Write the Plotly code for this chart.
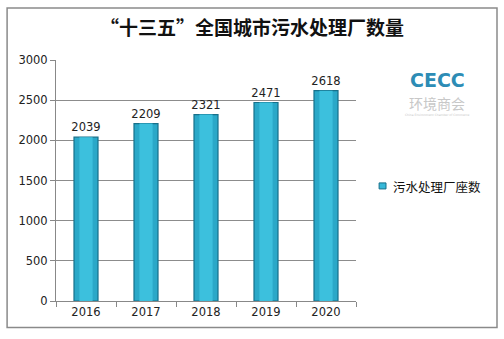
import plotly.graph_objects as go

years = ["2016", "2017", "2018", "2019", "2020"]
plants = [2039, 2209, 2321, 2471, 2618]
series_name = "污水处理厂座数"
title_text = "“十三五”全国城市污水处理厂数量"
y_ticks = [0, 500, 1000, 1500, 2000, 2500, 3000]

fig = go.Figure()
# main bar with darker edges
fig.add_trace(go.Bar(
    x=years, y=plants, name=series_name,
    marker=dict(color="#2aa8c8", line=dict(color="#17708a", width=1.2)),
    width=0.4,
    text=[str(v) for v in plants], textposition="outside",
    textfont=dict(size=11.5, color="#222", family="DejaVu Sans"),
    constraintext="none", cliponaxis=False,
))
# lighter centre highlight on each bar
fig.add_trace(go.Bar(
    x=years, y=plants, showlegend=False, hoverinfo="skip",
    marker=dict(color="#3cc0dd", line=dict(width=0)),
    width=0.22,
))

fig.update_layout(
    width=504, height=339,
    barmode="overlay",
    margin=dict(l=56, r=148, t=60, b=38, autoexpand=False),
    paper_bgcolor="white", plot_bgcolor="white",
    showlegend=False,
    font=dict(family="DejaVu Sans", size=11, color="#222"),
    title=dict(text="<b>" + title_text + "</b>", x=0.5, xref="container", xanchor="center",
               y=0.915, yanchor="middle",
               font=dict(size=19, color="#111", family="Noto Sans CJK SC")),
)

fig.update_xaxes(
    type="category", showline=True, linecolor="#888", linewidth=1,
    ticks="outside", tickson="boundaries", ticklen=5, tickcolor="#888",
    tickfont=dict(size=11.5, color="#222"), showgrid=False,
)
fig.update_yaxes(
    range=[0, 3000], tickvals=y_ticks, showline=True, linecolor="#888", linewidth=1,
    ticks="outside", ticklen=5, tickcolor="#888",
    gridcolor="#8c8c8c", gridwidth=1, zeroline=False,
    tickfont=dict(size=11.5, color="#222"),
)

# outer frame around the whole chart
fig.add_shape(type="rect", xref="paper", yref="paper",
              x0=-0.163, x1=1.47, y0=-0.11, y1=1.216,
              line=dict(color="#8a8a8a", width=1.5), fillcolor="rgba(0,0,0,0)", layer="below")

# series key: small square swatch plus label
fig.add_shape(type="rect", xref="paper", yref="paper",
              x0=1.077, x1=1.1, y0=0.465, y1=0.49,
              line=dict(color="#17708a", width=1), fillcolor="#36b8d8")
fig.add_annotation(xref="paper", yref="paper", x=1.117, y=0.477, xanchor="left", yanchor="middle",
                   text=series_name, showarrow=False,
                   font=dict(size=12.5, color="#111", family="Noto Sans CJK SC"))

# organisation mark
fig.add_annotation(xref="paper", yref="paper", x=1.273, y=0.918, xanchor="center", yanchor="middle",
                   text="<b>CECC</b>", showarrow=False,
                   font=dict(size=19, color="#2d8cb5", family="DejaVu Sans"))
fig.add_annotation(xref="paper", yref="paper", x=1.27, y=0.82, xanchor="center", yanchor="middle",
                   text="环境商会", showarrow=False,
                   font=dict(size=14, color="#c8c8c8", family="Noto Sans CJK SC"))
fig.add_annotation(xref="paper", yref="paper", x=1.27, y=0.77, xanchor="center", yanchor="middle",
                   text="China Environment Chamber of Commerce", showarrow=False,
                   font=dict(size=3, color="#c8c8c8", family="DejaVu Sans"))

fig.write_html("out.html")
